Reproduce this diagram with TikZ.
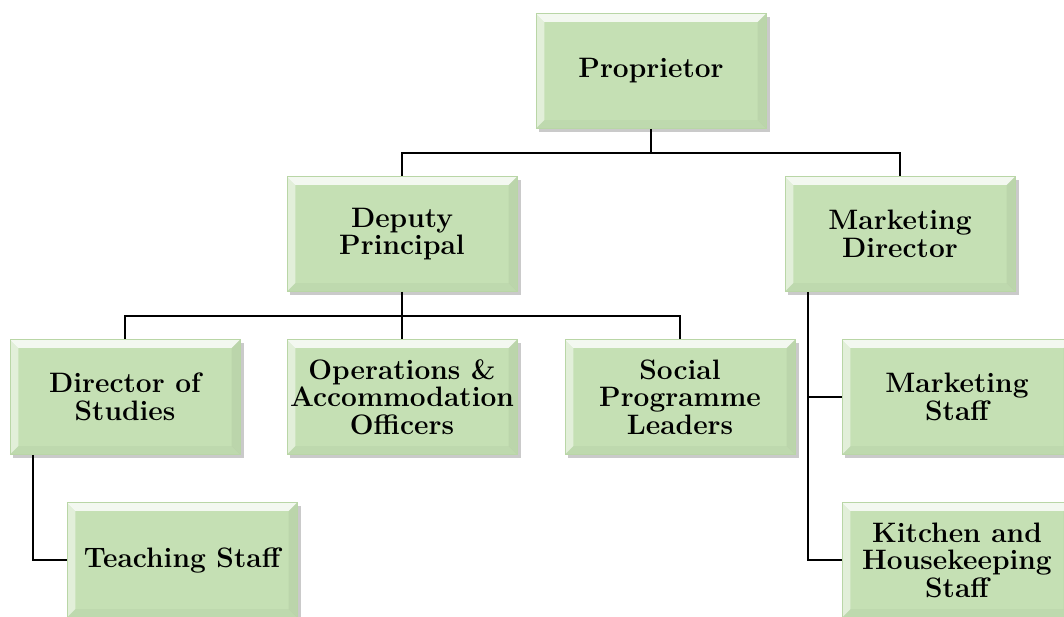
\documentclass[tikz,border=0pt]{standalone}
\usetikzlibrary{shadows}
\definecolor{boxgreen}{RGB}{197,224,180}
\definecolor{boxedge}{RGB}{185,214,166}
\begin{document}
\begin{tikzpicture}[x=0.025cm,y=-0.025cm,
	post/.style={fill=boxgreen, draw=boxedge, line width=0.4pt,
		minimum width=5.75cm, minimum height=2.875cm, align=center,
		inner sep=0pt, font=\fontsize{20}{19.5}\selectfont\bfseries,
		drop shadow={shadow xshift=2.5pt, shadow yshift=-2.5pt, opacity=0.35, fill=black!60},
		path picture={
			\fill[white,opacity=0.8] (path picture bounding box.north west) -- (path picture bounding box.north east)
			-- ([xshift=-6pt,yshift=-6pt]path picture bounding box.north east) -- ([xshift=6pt,yshift=-6pt]path picture bounding box.north west) -- cycle;
			\fill[white,opacity=0.5] (path picture bounding box.north west) -- ([xshift=6pt,yshift=-6pt]path picture bounding box.north west)
			-- ([xshift=6pt,yshift=6pt]path picture bounding box.south west) -- (path picture bounding box.south west) -- cycle;
			\fill[black!40!boxgreen,opacity=0.12] (path picture bounding box.north east) -- ([xshift=-6pt,yshift=-6pt]path picture bounding box.north east)
			-- ([xshift=-6pt,yshift=6pt]path picture bounding box.south east) -- (path picture bounding box.south east) -- cycle;
			\fill[black!30!boxgreen,opacity=0.1] (path picture bounding box.south west) -- ([xshift=6pt,yshift=6pt]path picture bounding box.south west)
			-- ([xshift=-6pt,yshift=6pt]path picture bounding box.south east) -- (path picture bounding box.south east) -- cycle;
		}},
	link/.style={line width=2pt, black}]

	\useasboundingbox (0,0) rectangle (1064,617);

	% top
	\node[post] (prop) at (651,71) {Proprietor};

	% second row
	\node[post] (deputy) at (402,234) {Deputy\\Principal};
	\node[post] (mkdir) at (900,234) {Marketing\\Director};

	% third row
	\node[post] (dos) at (125,397) {Director of\\Studies};
	\node[post] (ops) at (402,397) {Operations \&\\Accommodation\\Officers};
	\node[post] (social) at (680,397) {Social\\Programme\\Leaders};
	\node[post] (mkstaff) at (957,397) {Marketing\\Staff};

	% bottom row
	\node[post] (teach) at (182,560) {Teaching Staff};
	\node[post] (kitchen) at (957,560) {Kitchen and\\Housekeeping\\Staff};

	% lines
	\coordinate (j1) at (651,153);
	\coordinate (j2) at (402,316);
	\coordinate (d1) at (33,455);
	\coordinate (m1) at (808,292);
	\draw[link] (prop.south) -- (j1) -| (deputy.north);
	\draw[link] (j1) -| (mkdir.north);
	\draw[link] (deputy.south) -- (j2) -- (ops.north);
	\draw[link] (j2) -| (dos.north);
	\draw[link] (j2) -| (social.north);
	\draw[link] (d1) |- (teach.west);
	\draw[link] (m1) |- (mkstaff.west);
	\draw[link] (m1) |- (kitchen.west);
\end{tikzpicture}
\end{document}
